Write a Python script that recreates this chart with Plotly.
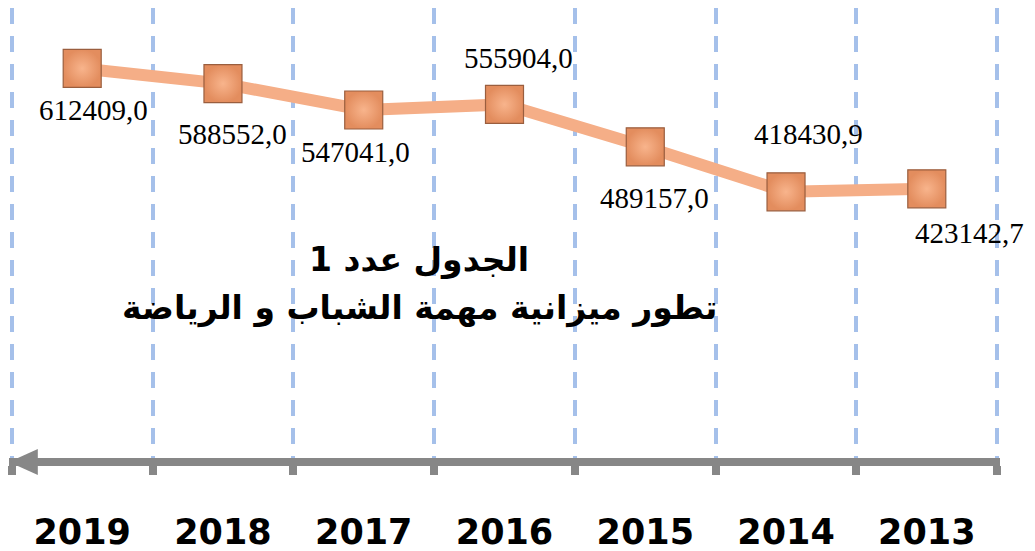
import plotly.graph_objects as go

# Données
years = ["2019", "2018", "2017", "2016", "2015", "2014", "2013"]
budget = [612409.0, 588552.0, 547041.0, 555904.0, 489157.0, 418430.9, 423142.7]
title_lines = ["الجدول عدد 1", "تطور ميزانية مهمة الشباب و الرياضة"]

# décalage des étiquettes (pixels)
label_shift = [(11, -42), (10, -50), (-8, -42), (14, 46), (9, -51), (22, 58), (43, -44)]

AXIS_GRAY = "#878787"

fig = go.Figure()

fig.add_trace(go.Scatter(
    x=years,
    y=budget,
    mode="lines+markers",
    line=dict(color="#F5AE87", width=12),
    marker=dict(
        symbol="square",
        size=38,
        color="#E38D5E",
        gradient=dict(type="radial", color="#F8B48C"),
        line=dict(color="#9A5E3E", width=1.2),
    ),
    hoverinfo="skip",
    showlegend=False,
))

# étiquettes de valeurs
for i, (v, (dx, dy)) in enumerate(zip(budget, label_shift)):
    fig.add_annotation(
        x=i, y=v, xref="x", yref="y",
        text=f"{v:.1f}".replace(".", ","),
        showarrow=False,
        xshift=dx, yshift=dy,
        font=dict(family="Liberation Serif, Times New Roman, serif", size=29, color="black"),
    )

# titre
for txt, ypos in zip(title_lines, [0.44, 0.333]):
    fig.add_annotation(
        x=0.414, y=ypos, xref="paper", yref="paper",
        text=txt,
        showarrow=False,
        xanchor="center", yanchor="middle",
        font=dict(family="DejaVu Sans", size=33, color="black", weight="bold"),
    )

# flèche de l'axe
fig.add_shape(
    type="path",
    xref="x", xsizemode="pixel", xanchor=-0.5,
    yref="paper", ysizemode="pixel", yanchor=0,
    path="M -3,-4 L 26,9 L 26,-17 Z",
    fillcolor=AXIS_GRAY, line=dict(width=0),
)

fig.update_layout(
    width=1027, height=543,
    margin=dict(l=1, r=35, t=0, b=93),
    paper_bgcolor="white",
    plot_bgcolor="white",
    xaxis=dict(
        type="category",
        range=[-0.52, 6.52],
        tickson="boundaries",
        showgrid=True,
        gridcolor="#A5C0EA",
        gridwidth=4,
        griddash="16px,12px",
        showline=True,
        linecolor=AXIS_GRAY,
        linewidth=8,
        ticks="outside",
        ticklen=9,
        tickwidth=8,
        tickcolor=AXIS_GRAY,
        ticklabelstandoff=36,
        tickfont=dict(family="DejaVu Sans", size=35, color="black", weight="bold"),
        zeroline=False,
    ),
    yaxis=dict(
        range=[0, 707424],
        visible=False,
        showgrid=False,
        zeroline=False,
    ),
)

fig.write_html("out.html")
